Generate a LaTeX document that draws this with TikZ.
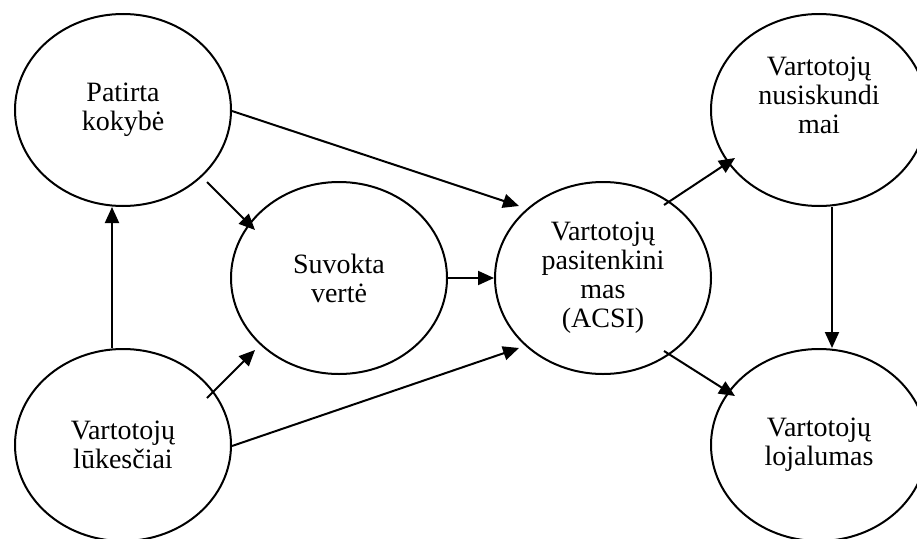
\documentclass[tikz,border=0pt]{standalone}
\usepackage{fontspec}
\setmainfont{Liberation Serif}
\usetikzlibrary{shapes.geometric,arrows.meta,calc}
\begin{document}
\begin{tikzpicture}[x=1pt,y=-1pt,
  factor/.style={draw,ellipse,line width=2pt,minimum width=216pt,minimum height=192pt,
    inner sep=0pt,align=center,font=\fontsize{28}{29}\selectfont},
  arr/.style={line width=2pt,-{Triangle[length=16pt,width=14pt]}}]
\useasboundingbox (0,0) rectangle (917,538);

% factors of the satisfaction index model
\node[factor] (pk)   at (123,110) {Patirta\\kokybė};
\node[factor] (sv)   at (339,278) {Suvokta\\vertė};
\node[factor] (lk)   at (123,445) {Vartotojų\\lūkesčiai};
\node[factor] (acsi) at (603,278) {Vartotojų\\pasitenkini\\mas\\(ACSI)};
\node[factor] (ns)   at (819,110) {Vartotojų\\nusiskundi\\mai\\\mbox{}};
\node[factor] (lj)   at (819,445) {Vartotojų\\lojalumas};

% causal links
\draw[arr] ([xshift=-11pt]lk.north) -- ([xshift=-11pt]pk.south);
\draw[arr] ($(pk)+(84,72)$) -- ($(sv)+(-84,-48)$);
\draw[arr] ($(pk)+(109,1)$) -- ($(acsi)+(-84,-72)$);
\draw[arr] (sv.east) -- (acsi.west);
\draw[arr] ($(lk)+(84,-47)$) -- ($(sv)+(-84,72)$);
\draw[arr] ($(lk)+(109,1)$) -- ($(acsi)+(-84,70)$);
\draw[arr] ($(acsi)+(61,-73)$) -- ($(ns)+(-84,48)$);
\draw[arr] ($(acsi)+(61,73)$) -- ($(lj)+(-84,-49)$);
\draw[arr] ([xshift=13pt]ns.south) -- ([xshift=13pt]lj.north);
\end{tikzpicture}
\end{document}
